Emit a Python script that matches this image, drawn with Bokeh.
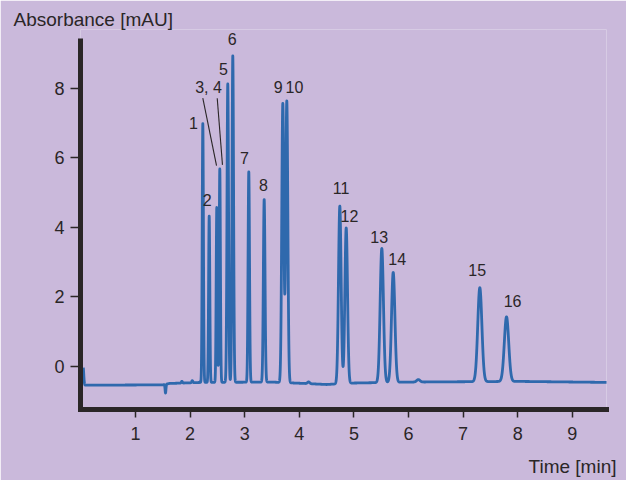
import numpy as np
from bokeh.plotting import figure
from bokeh.models import ColumnDataSource, FixedTicker, Title
from bokeh.core.properties import value
from bokeh.embed import file_html
from bokeh.resources import INLINE

# Peak table of the chromatogram: retention time [min], apex absorbance [mAU], peak sigma [min]
peak_ids = ["1", "2", "3", "4", "5", "6", "7", "8", "9", "10", "11", "12", "13", "14", "15", "16"]
peak_rt = [2.233, 2.350, 2.489, 2.544, 2.690, 2.782, 3.075, 3.357, 3.698, 3.771,
           4.742, 4.859, 5.511, 5.720, 7.306, 7.795]
peak_apex = [6.99, 4.32, 4.57, 5.68, 8.13, 8.94, 5.60, 4.80, 7.57, 7.64,
             4.61, 3.98, 3.39, 2.70, 2.26, 1.42]
peak_sigma = [0.011, 0.011, 0.011, 0.011, 0.014, 0.014, 0.013, 0.015, 0.019, 0.019,
              0.024, 0.024, 0.030, 0.031, 0.038, 0.040]

# Small baseline disturbances: injection front, system dip, minor bumps
minor_rt = [0.040, 1.550, 1.850, 2.040, 4.170, 6.180]
minor_amp = [0.55, -0.25, 0.05, 0.06, 0.05, 0.07]
minor_sigma = [0.012, 0.008, 0.010, 0.010, 0.020, 0.030]

# Baseline level along the run
base_t = [0.04, 1.50, 1.62, 2.20, 3.50, 4.10, 4.50, 4.90, 6.00, 8.00, 9.66]
base_v = [-0.55, -0.54, -0.50, -0.47, -0.46, -0.50, -0.53, -0.49, -0.46, -0.44, -0.47]

# Peak annotations (label text and where each label sits)
label_text = ["1", "2", "3, 4", "5", "6", "7", "8", "9", "10", "11", "12", "13", "14", "15", "16"]
label_t = [2.062, 2.313, 2.337, 2.613, 2.771, 2.996, 3.344, 3.614, 3.912,
           4.767, 4.919, 5.463, 5.793, 7.258, 7.905]
label_v = [7.02, 4.80, 8.03, 8.55, 9.42, 6.01, 5.21, 8.03, 8.03,
           5.12, 4.34, 3.71, 3.10, 2.76, 1.87]

# Leader lines from the "3, 4" label down to peaks 3 and 4
leader_t0 = [2.233, 2.497]
leader_v0 = [7.72, 7.72]
leader_t1 = [2.484, 2.593]
leader_v1 = [5.78, 5.80]

x_ticks = [1, 2, 3, 4, 5, 6, 7, 8, 9]
y_ticks = [0, 2, 4, 6, 8]

# extent of the drawn axis lines
x_axis_span = (-0.007, 9.626)
y_axis_span = (-1.25, 9.44)

BG = "#cab9db"
TRACE = "#2f69ad"
INK = "#2a2627"
FONT = "Liberation Sans"


def gauss(t, center, sigma):
    return np.exp(-0.5 * ((t - center) / sigma) ** 2)


# Build the detector trace from the peak table
t = np.arange(0.045, 9.66, 0.001)
rt = np.array(peak_rt)
sg = np.array(peak_sigma)
baseline = np.interp(t, base_t, base_v)

# amplitudes chosen so that overlapping peaks reach their listed apex values
G = gauss(rt[:, None], rt[None, :], sg[None, :])
amp = np.linalg.solve(G, np.array(peak_apex) - np.interp(rt, base_t, base_v))

signal = baseline.copy()
for a, c, s in zip(amp, rt, sg):
    signal += a * gauss(t, c, s)
for a, c, s in zip(minor_amp, minor_rt, minor_sigma):
    signal += a * gauss(t, c, s)

p = figure(frame_width=526, frame_height=380,
           x_range=(-0.007, 9.626), y_range=(-1.25, 9.70),
           output_backend="svg", toolbar_location=None,
           min_border_left=80, min_border_right=20,
           min_border_top=29, min_border_bottom=71,
           background_fill_color=BG, border_fill_color=BG,
           outline_line_color=None)
p.grid.visible = False

p.title.text = "Absorbance [mAU]"
p.title.text_font = FONT
p.title.text_font_style = "normal"
p.title.text_font_size = "19px"
p.title.text_color = INK
p.title.align = "left"
p.title.offset = -67
p.title.standoff = 0

p.add_layout(Title(text="Time [min]", align="right", offset=-10, standoff=22,
                   text_font=FONT, text_font_style="normal", text_font_size="19px",
                   text_color=INK), "below")

p.line(t, signal, line_color=TRACE, line_width=2.8, line_join="round")

p.segment(x0=leader_t0, y0=leader_v0, x1=leader_t1, y1=leader_v1,
          line_color=INK, line_width=1.1)

lab_src = ColumnDataSource(dict(x=label_t, y=label_v, text=label_text))
p.text(x="x", y="y", text="text", source=lab_src,
       text_font=value(FONT), text_font_size="16px", text_color=INK,
       text_align="center", text_baseline="middle")

for ax in (p.xaxis[0], p.yaxis[0]):
    ax.axis_line_color = INK
    ax.axis_line_width = 5
    ax.major_tick_line_color = INK
    ax.major_tick_line_width = 1.5
    ax.major_tick_in = 0
    ax.minor_tick_line_color = None
    ax.major_label_text_font = FONT
    ax.major_label_text_font_size = "18px"
    ax.major_label_text_color = INK

p.xaxis.ticker = FixedTicker(ticks=x_ticks)
p.yaxis.ticker = FixedTicker(ticks=y_ticks)
p.xaxis.bounds = x_axis_span
p.yaxis.bounds = y_axis_span
p.xaxis.major_tick_out = 8
p.yaxis.major_tick_out = 10
p.xaxis.major_label_standoff = 9
p.yaxis.major_label_standoff = 6
p.xaxis.axis_line_cap = "square"

open("out.html", "w").write(file_html(p, INLINE))
